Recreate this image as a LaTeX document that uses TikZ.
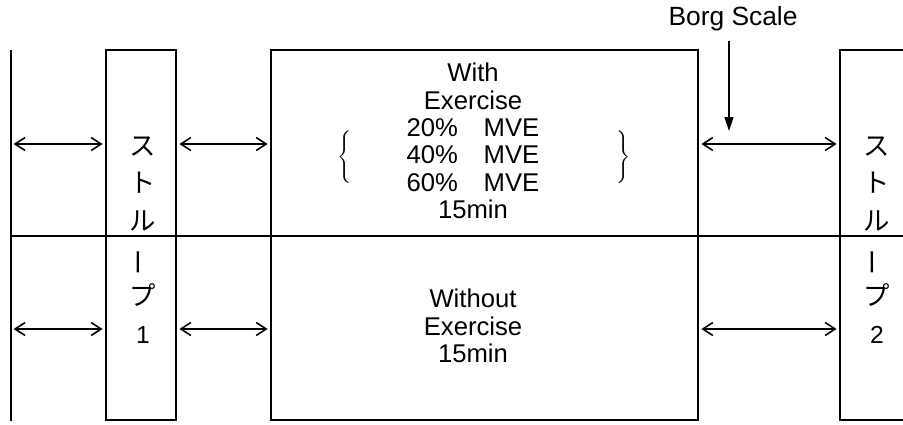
\documentclass[tikz,border=0pt]{standalone}
\usepackage{fontspec}
\setmainfont{Liberation Sans}
\newfontfamily\jpfont{Noto Sans CJK JP}
\usetikzlibrary{arrows.meta}

\begin{document}
\begin{tikzpicture}[
  x=0.02cm, y=-0.02cm,
  line width=.9pt,
  box/.style={draw, minimum width=#1, inner sep=0pt},
  col/.style={align=center, font=\jpfont\fontsize{15}{21.4}\selectfont, inner sep=0pt},
  txt/.style={align=center, font=\fontsize{14.6}{15.6}\selectfont, inner sep=0pt},
  dbl/.style={{Straight Barb[length=2mm,width=2.6mm]}-{Straight Barb[length=2mm,width=2.6mm]},
              shorten <=1.5pt, shorten >=1.5pt},
  down/.style={-{Triangle[length=2.8mm,width=1.8mm]}},
]
\useasboundingbox (0,0) rectangle (903,424);
\clip (0,0) rectangle (903,424);

% ---------------- boxes ----------------
\coordinate (barTop) at (11,50);
\coordinate (barBot) at (11,421);
\draw (barTop) -- (barBot);
\node[box=1.4cm, minimum height=7.4cm]  (s1) at (141,235)   {};
\node[box=8.54cm, minimum height=7.4cm] (ex) at (484.5,235) {};
\node[box=1.6cm, minimum height=7.4cm]  (s2) at (880,235)   {};

% ---------------- middle line ----------------
\coordinate (midL) at (11,236);
\draw (midL) -- (midL -| 903,0);

% ---------------- texts ----------------
\node[col] (s1t) at (143,240)
  {ス\\ト\\ル\\\rotatebox[origin=c]{90}{ー}\\プ\\{\rmfamily\fontsize{14}{21.4}\selectfont 1}};
\node[col] (s2t) at (877,240)
  {ス\\ト\\ル\\\rotatebox[origin=c]{90}{ー}\\プ\\{\rmfamily\fontsize{14}{21.4}\selectfont 2}};
\node[txt] (withT) at (473,141)
  {With\\Exercise\\20\%\hspace{1em}MVE\\40\%\hspace{1em}MVE\\60\%\hspace{1em}MVE\\15min};
\node[txt] (withoutT) at (473,326) {Without\\Exercise\\15min};
\node[inner sep=0pt] (lbr) at (346,158)
  {$\left\{\vrule height 0.47cm depth 0.47cm width 0pt\right.$};
\node[inner sep=0pt] (rbr) at (623,158)
  {$\left.\vrule height 0.47cm depth 0.47cm width 0pt\right\}$};

% ---------------- arrows ----------------
\coordinate (rowA) at (11,144);
\coordinate (rowB) at (11,329);
\foreach \r in {rowA,rowB} {
  \draw[dbl] (\r) -- (\r -| s1.west);
  \draw[dbl] (\r -| s1.east) -- (\r -| ex.west);
  \draw[dbl] (\r -| ex.east) -- (\r -| s2.west);
}

% ---------------- Borg Scale ----------------
\node[font=\fontsize{15}{17}\selectfont, inner sep=0pt] (borg) at (733,19) {Borg Scale};
\coordinate (borgTip) at (729,131);
\draw[down] (borg.south -| borgTip) ++(0,9) -- (borgTip);

\end{tikzpicture}
\end{document}
